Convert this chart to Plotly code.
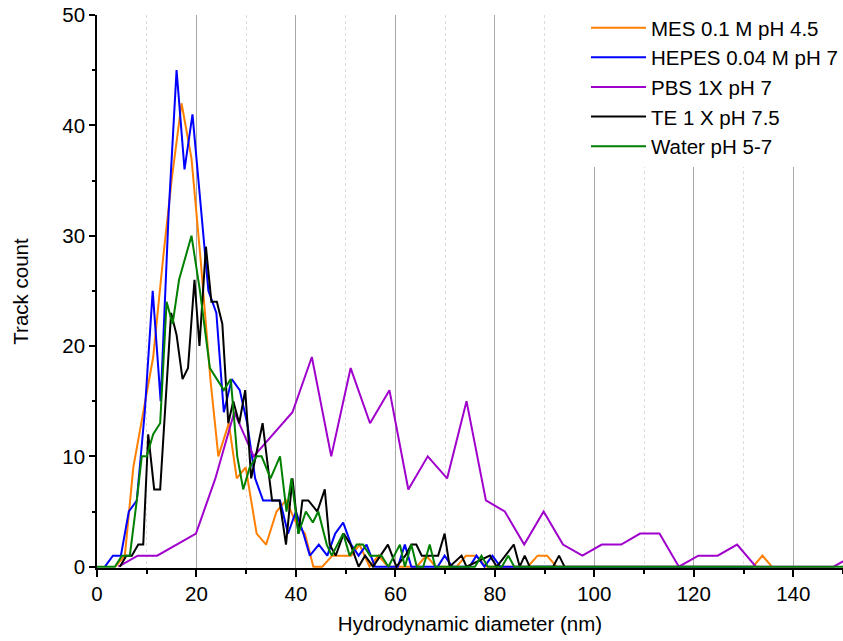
import plotly.graph_objects as go

# ---- data ----
mes_x = [3.7, 5.6, 7.3, 9.3, 11.3, 13.3, 15.0, 17.0, 19.0, 20.8, 22.8, 24.4, 26.5, 28.1, 29.9, 32.1, 34.0,
         36.1, 38.0, 40.0, 41.8, 43.5, 45.3, 47.3, 49.3, 51.1, 52.8, 54.8, 56.6, 58.5, 64.3, 66.2, 68.1,
         72.3, 74.2, 76.2, 78.2, 86.6, 88.6, 90.5, 92.4, 131.9, 133.8, 135.7]
mes_y = [0, 1, 9, 14, 19, 28, 35, 42, 37, 28, 17, 10, 13, 8, 9, 3, 2,
         5, 6, 4, 3, 0, 0, 1, 1, 1, 2, 0, 1, 0, 0, 1, 0,
         0, 1, 1, 0, 0, 1, 1, 0, 0, 1, 0]

hepes_x = [1.6, 3.2, 4.8, 6.4, 8.0, 9.6, 11.2, 12.8, 14.4, 16.0, 17.6, 19.2, 22.4, 24.0, 25.5, 27.1,
           28.7, 30.2, 31.8, 33.4, 36.8, 38.4, 40.0, 41.5, 42.8, 44.6, 46.3, 47.9, 49.5, 51.1, 52.6,
           54.2, 55.9, 60.5, 61.9, 63.2, 68.5, 69.9, 71.4, 74.9, 76.3, 77.9, 79.5, 81.1, 132.0]
hepes_y = [0, 1, 1, 5, 6, 14, 25, 15, 32, 45, 36, 41, 25, 23, 14, 17,
           16, 13, 8, 6, 6, 3, 5, 3, 1, 2, 1, 3, 4, 2, 1,
           2, 0, 0, 2, 0, 0, 1, 0, 0, 1, 0, 1, 0, 0]

pbs_x = [4.3, 8.2, 12.1, 16.0, 19.9, 23.8, 27.6, 31.5, 35.4, 39.3, 43.2, 47.1, 51.0, 54.9, 58.8,
         62.6, 66.5, 70.4, 74.3, 78.2, 82.0, 85.9, 89.8, 93.7, 97.6, 101.5, 105.4, 109.2, 113.1,
         117.0, 120.9, 124.8, 128.7, 132.5, 136.4, 140.3, 144.2, 148.1, 152.0]
pbs_y = [0, 1, 1, 2, 3, 8, 14, 10, 12, 14, 19, 10, 18, 13, 16,
         7, 10, 8, 15, 6, 5, 2, 5, 2, 1, 2, 2, 3, 3,
         0, 1, 1, 2, 0, 0, 0, 0, 0, 1]

te_x = [4.6, 5.9, 7.0, 8.3, 9.3, 10.3, 11.5, 12.7, 14.9, 16.0, 17.2, 18.3, 19.6, 20.6, 21.9, 23.0,
        24.1, 25.2, 26.4, 27.4, 28.6, 29.8, 31.0, 33.3, 35.2, 36.7, 38.0, 39.3, 40.5, 41.3, 42.5,
        44.3, 45.8, 46.8, 48.0, 49.6, 51.0, 52.6, 53.9, 55.5, 58.5, 60.2, 62.0, 63.2, 64.2, 65.3,
        68.6, 69.9, 70.9, 73.3, 74.3, 79.0, 80.4, 83.8, 85.0, 86.0, 87.0, 91.7, 92.9, 94.0]
te_y = [0, 1, 1, 2, 2, 12, 7, 7, 23, 21, 17, 18, 26, 20, 29, 24,
        24, 22, 13, 15, 13, 16, 8, 13, 6, 6, 2, 8, 3, 6, 6,
        5, 7, 2, 1, 3, 2, 0, 1, 0, 2, 0, 1, 2, 2, 1,
        1, 3, 0, 1, 0, 1, 0, 2, 0, 1, 0, 0, 1, 0]

water_x = [0.0, 3.6, 5.0, 6.6, 8.0, 9.0, 10.0, 11.3, 12.7, 14.0, 15.2, 16.5, 19.0, 20.7, 22.7, 25.5,
           26.9, 28.2, 29.4, 30.7, 32.1, 33.1, 34.9, 36.8, 38.1, 39.1, 40.5, 42.0, 43.4, 44.5, 46.2,
           47.2, 49.5, 50.8, 52.2, 53.5, 54.9, 57.2, 58.6, 60.9, 61.9, 63.2, 64.3, 65.6, 66.9, 68.0,
           76.0, 77.3, 78.6, 81.4, 82.7, 83.9, 150.0]
water_y = [0, 0, 1, 1, 6, 10, 10, 12, 13, 24, 22, 26, 30, 25, 18, 16,
           17, 10, 7, 9, 10, 10, 8, 10, 5, 8, 3, 5, 4, 5, 2,
           1, 3, 1, 2, 2, 1, 1, 0, 2, 0, 2, 0, 0, 2, 0,
           0, 1, 0, 0, 1, 0, 0]

series = [
    ("MES 0.1 M pH 4.5", mes_x, mes_y, "#FF8000"),
    ("HEPES 0.04 M pH 7", hepes_x, hepes_y, "#0000FF"),
    ("PBS 1X pH 7", pbs_x, pbs_y, "#A000CC"),
    ("TE 1 X pH 7.5", te_x, te_y, "#000000"),
    ("Water pH 5-7", water_x, water_y, "#008000"),
]

FONT = "Liberation Sans, Arial, sans-serif"
FS = 20.5

fig = go.Figure()
for name, xs, ys, col in series:
    fig.add_trace(go.Scatter(x=xs, y=ys, mode="lines", name=name,
                             line=dict(color=col, width=2)))

fig.update_layout(
    width=843, height=641,
    margin=dict(l=97, r=0, t=15, b=73),
    paper_bgcolor="white", plot_bgcolor="white",
    font=dict(family=FONT, size=FS, color="black"),
    showlegend=True,
    legend=dict(x=1, xanchor="right", y=1.013, yanchor="top",
                bgcolor="white", borderwidth=0,
                font=dict(family=FONT, size=20.5, color="black"),
                itemwidth=55),
)

fig.update_xaxes(
    range=[0, 150], tickmode="linear", tick0=0, dtick=20,
    ticks="outside", ticklen=7, tickwidth=1.5, tickcolor="black",
    showline=True, linecolor="black", linewidth=1.5,
    showgrid=True, gridcolor="#a8a8a8", gridwidth=1,
    zeroline=False,
    tickfont=dict(family=FONT, size=FS),
    minor=dict(dtick=10, tick0=0, ticks="outside", ticklen=4, tickwidth=1.5, tickcolor="black",
               showgrid=True, gridcolor="#dddddd", griddash="dot", gridwidth=1),
    title=dict(text="Hydrodynamic diameter (nm)", standoff=12,
               font=dict(family=FONT, size=FS)),
)

fig.update_yaxes(
    range=[-0.12, 50], tickmode="linear", tick0=0, dtick=10,
    ticks="outside", ticklen=6, tickwidth=1.5, tickcolor="black",
    showline=True, linecolor="black", linewidth=1.5,
    showgrid=False, zeroline=False,
    tickfont=dict(family=FONT, size=FS),
    minor=dict(dtick=5, tick0=0, ticks="outside", ticklen=3, tickwidth=1.5, tickcolor="black",
               showgrid=False),
    title=dict(text="Track count", standoff=28, font=dict(family=FONT, size=FS)),
)

fig.write_html("out.html")
